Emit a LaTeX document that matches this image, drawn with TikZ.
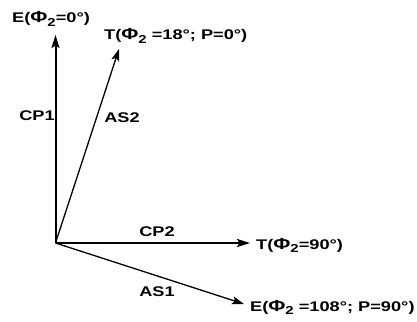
\documentclass[tikz,border=0pt]{standalone}
\usepackage{fontspec}
\setmainfont{Liberation Sans}
\usetikzlibrary{arrows.meta}
\newcommand\lblx[1]{\scalebox{1.3}[1]{\bfseries #1}}
\newcommand\phx{{\fontsize{16}{16}\selectfont\bfseries Φ}}
\newcommand\sbx{\raisebox{-3.5pt}{\fontsize{11.5}{13}\selectfont\bfseries 2}}
\tikzset{
  lbl/.style={inner sep=0pt, font=\fontsize{14}{16}\selectfont},
  thick vec/.style={line width=2pt, -{Stealth[length=13pt,width=8pt,inset=2.5pt]}},
  thin vec/.style={line width=1.3pt, -{Stealth[length=12pt,width=8pt,inset=2.5pt]}}
}
\begin{document}
\begin{tikzpicture}[x=1pt,y=-1pt]
\useasboundingbox (0,0) rectangle (417,321);
\coordinate (O) at (55.5,243);
\coordinate (cp1tip) at (55.5,35);
\coordinate (as2tip) at (119,49);
\coordinate (cp2tip) at (250,243);
\coordinate (as1tip) at (244,304);
\draw[thick vec] (O) -- (cp1tip);
\draw[thin vec] (O) -- (as2tip);
\draw[thick vec] (O) -- (cp2tip);
\draw[thin vec] (O) -- (as1tip);
\node[lbl, anchor=base west] (e0) at (12,23) {\lblx{E(\phx\sbx=0°)}};
\node[lbl, anchor=base west] (t18) at (104,40) {\lblx{T(\phx\sbx\ =18°; P=0°)}};
\node[lbl] (cp1) at (37,116) {\lblx{CP1}};
\node[lbl] (as2) at (122,118) {\lblx{AS2}};
\node[lbl] (cp2) at (157,232) {\lblx{CP2}};
\node[lbl, anchor=base west] (t90) at (256,249) {\lblx{T(\phx\sbx=90°)}};
\node[lbl] (as1) at (157,292) {\lblx{AS1}};
\node[lbl, anchor=base west] (e108) at (250,311) {\lblx{E(\phx\sbx\ =108°; P=90°)}};
\end{tikzpicture}
\end{document}
